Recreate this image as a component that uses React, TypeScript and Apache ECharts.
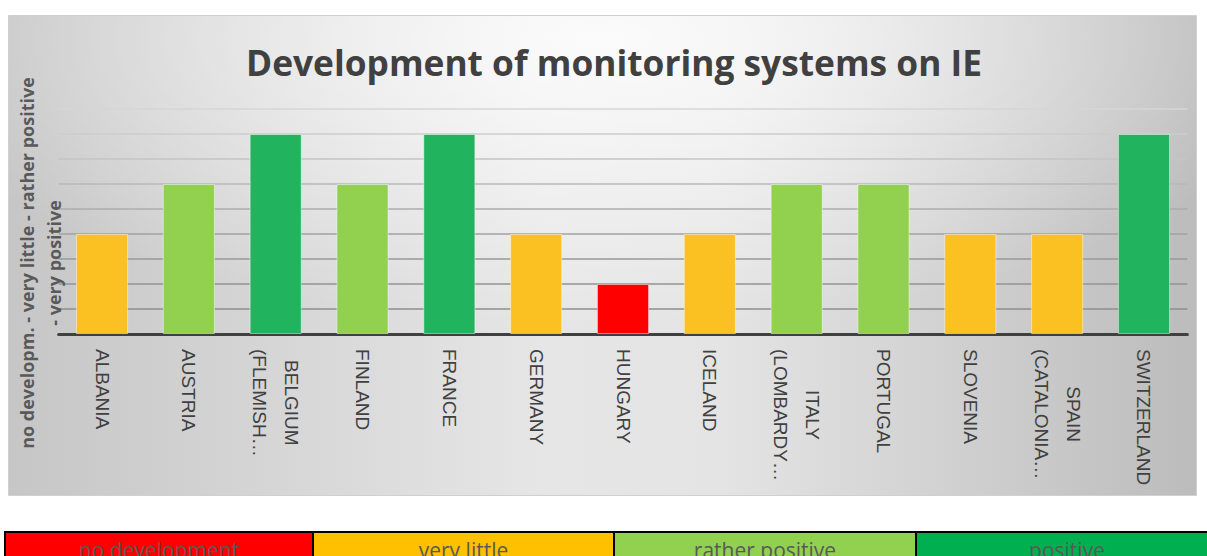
import React, { useEffect, useRef } from "react";
import * as echarts from "echarts";

const categories = [
  "ALBANIA",
  "AUSTRIA",
  "BELGIUM\n(FLEMISH…",
  "FINLAND",
  "FRANCE",
  "GERMANY",
  "HUNGARY",
  "ICELAND",
  "ITALY\n(LOMBARDY…",
  "PORTUGAL",
  "SLOVENIA",
  "SPAIN\n(CATALONIA…",
  "SWITZERLAND",
];
const scores = [2, 3, 4, 3, 4, 2, 1, 2, 3, 3, 2, 2, 4];
const levels = ["no development", "very little", "rather positive", "positive"];
const levelColors = ["#FF0000", "#FBC122", "#92D050", "#22B35E"];
const legendColors = ["#FF0000", "#FFC000", "#92D050", "#00B050"];
const yMin = 0;
const yMax = 4.5;
const yInterval = 0.5;
const titleText = "Development of monitoring systems on IE";
const yAxisTitle = "no developm. - very little - rather positive\n- very positive";

const FONT = "'Open Sans', 'Noto Sans', sans-serif";
const LABEL_FONT = "'Liberation Sans', Arial, sans-serif";

export default function App() {
  const ref = useRef<HTMLDivElement>(null);
  useEffect(() => {
    document.body.style.margin = "0";
    const chart = echarts.init(ref.current!, null, { renderer: "svg" });
    const legendX = [5, 313, 614, 916, 1218];
    const legendGraphics: any[] = [];
    levels.forEach((lv, i) => {
      legendGraphics.push({
        type: "rect",
        z: 10,
        shape: { x: legendX[i], y: 532, width: legendX[i + 1] - legendX[i], height: 50 },
        style: { fill: legendColors[i], stroke: "#000", lineWidth: 2 },
      });
      legendGraphics.push({
        type: "text",
        z: 11,
        x: (legendX[i] + legendX[i + 1]) / 2,
        y: 550,
        style: {
          text: lv,
          fill: "#595959",
          font: `21px ${FONT}`,
          textAlign: "center",
          textVerticalAlign: "middle",
        },
      });
    });
    chart.setOption({
      animation: false,
      graphic: [
        {
          type: "rect",
          z: -10,
          silent: true,
          shape: { x: 8.5, y: 15.5, width: 1188, height: 480 },
          style: {
            fill: new echarts.graphic.LinearGradient(0, 0, 1, 0, [
              { offset: 0, color: "#c6c6c6" },
              { offset: 0.45, color: "#e6e6e6" },
              { offset: 0.6, color: "#e4e4e4" },
              { offset: 1, color: "#bcbcbc" },
            ]),
            stroke: "#d0d0d0",
            lineWidth: 1,
          },
        },
        {
          type: "rect",
          z: -9,
          silent: true,
          shape: { x: 9, y: 16, width: 1187, height: 479 },
          style: {
            fill: new echarts.graphic.RadialGradient(0.5, 0.05, 0.6, [
              { offset: 0, color: "rgba(255,255,255,0.85)" },
              { offset: 1, color: "rgba(255,255,255,0)" },
            ]),
          },
        },
        {
          type: "text",
          z: 5,
          x: 614,
          y: 62,
          style: {
            text: titleText,
            fill: "#404040",
            font: `bold 35.3px ${FONT}`,
            textAlign: "center",
            textVerticalAlign: "middle",
          },
        },
        {
          type: "text",
          z: 5,
          x: 40,
          y: 263,
          rotation: Math.PI / 2,
          style: {
            text: yAxisTitle,
            fill: "#595959",
            font: `bold 18px ${FONT}`,
            lineHeight: 27,
            textAlign: "center",
            textVerticalAlign: "middle",
          },
        },
        ...legendGraphics,
      ],
      grid: { left: 58.6, right: 19.6, top: 109, bottom: 222, containLabel: false },
      xAxis: {
        type: "category",
        data: categories,
        axisLine: { show: true, lineStyle: { color: "#404040", width: 3 } },
        axisTick: { show: false },
        axisLabel: {
          interval: 0,
          rotate: -90,
          margin: 15,
          color: "#404040",
          fontFamily: LABEL_FONT,
          fontSize: 19,
          formatter: (v: string) =>
            v
              .split("\n")
              .map((l) => `{c|${l}}`)
              .join("\n"),
          rich: {
            c: {
              align: "center",
              color: "#404040",
              fontFamily: LABEL_FONT,
              fontSize: 19,
              lineHeight: 32,
            },
          },
        },
      },
      yAxis: {
        type: "value",
        min: yMin,
        max: yMax,
        interval: yInterval,
        axisLabel: { show: false },
        axisLine: { show: false },
        axisTick: { show: false },
        splitLine: {
          show: true,
          lineStyle: {
            width: 1.5,
            color: [
              "#404040",
              "#8e8e8e",
              "#939393",
              "#999999",
              "#a2a2a2",
              "#acacac",
              "#b8b8b8",
              "#c4c4c4",
              "#cdcdcd",
              "#d6d6d6",
            ],
          },
        },
      },
      series: [
        {
          type: "bar",
          barWidth: "60%",
          data: scores.map((v) => ({
            value: v,
            itemStyle: { color: levelColors[v - 1] },
          })),
          itemStyle: { borderColor: "rgba(255,255,255,0.45)", borderWidth: 1 },
        },
      ],
    });
    return () => chart.dispose();
  }, []);
  return <div ref={ref} style={{ width: 1207, height: 556 }} />;
}
